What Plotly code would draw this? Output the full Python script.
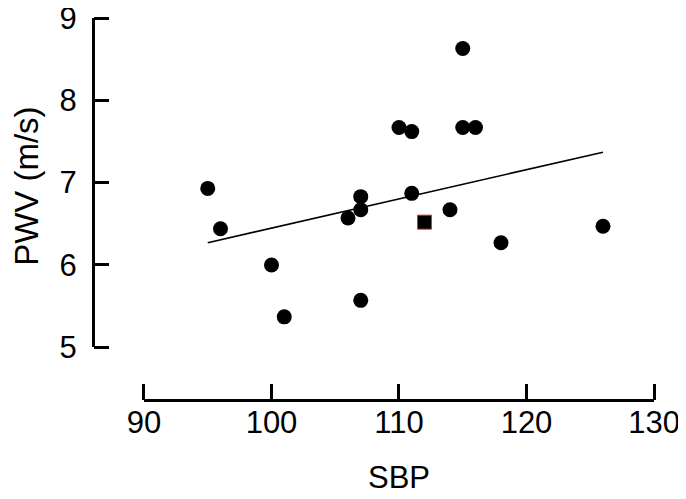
import plotly.graph_objects as go

# Data
sbp = [95, 96, 100, 101, 107, 106, 107, 107, 111, 110, 111, 115, 116, 114, 118, 126, 115]
pwv = [6.93, 6.44, 6.00, 5.37, 5.57, 6.57, 6.67, 6.83, 6.87, 7.67, 7.62, 7.67, 7.67, 6.67, 6.27, 6.47, 8.63]
highlight_sbp = [112]
highlight_pwv = [6.52]
fit_sbp = [95, 126]
fit_pwv = [6.27, 7.37]
x_ticks = [90, 100, 110, 120, 130]
y_ticks = [5, 6, 7, 8, 9]
x_range = [90, 130]
y_range = [5, 9]

FONT = "Liberation Sans, Arial, sans-serif"

fig = go.Figure()
fig.add_trace(go.Scatter(x=fit_sbp, y=fit_pwv, mode="lines",
                         line=dict(color="black", width=1.6), showlegend=False,
                         hoverinfo="skip", cliponaxis=False))
fig.add_trace(go.Scatter(x=sbp, y=pwv, mode="markers",
                         marker=dict(color="black", size=15, line=dict(width=0)),
                         showlegend=False, cliponaxis=False))
fig.add_trace(go.Scatter(x=highlight_sbp, y=highlight_pwv, mode="markers",
                         marker=dict(color="black", size=14, symbol="square",
                                     line=dict(color="#e03030", width=1)),
                         showlegend=False, cliponaxis=False))
# empty trace so the tick-only overlay axes are drawn
fig.add_trace(go.Scatter(x=[None], y=[None], xaxis="x2", yaxis="y2",
                         mode="markers", showlegend=False, hoverinfo="skip"))

tick_font = dict(size=31, family=FONT, color="black")

fig.update_layout(
    width=686, height=499,
    margin=dict(l=85, r=40, t=10, b=107, autoexpand=False),
    paper_bgcolor="white", plot_bgcolor="white",
    font=dict(family=FONT, color="black", size=30),
    # label + line axes
    xaxis=dict(
        domain=[0.0909, 1.0], range=x_range, anchor="free", position=0, side="bottom",
        automargin=False,
        tickmode="array", tickvals=x_ticks, ticktext=[str(v) for v in x_ticks],
        ticks="", showline=True, linewidth=3, linecolor="black",
        showgrid=False, zeroline=False, ticklabelstandoff=-6,
        ticklabeloverflow="allow", tickfont=tick_font,
    ),
    yaxis=dict(
        domain=[0.138, 1.0], range=y_range, anchor="free", position=0, side="left",
        automargin=False,
        tickmode="array", tickvals=y_ticks, ticktext=[str(v) for v in y_ticks],
        ticks="", showline=True, linewidth=3, linecolor="black",
        showgrid=False, zeroline=False, ticklabelstandoff=9,
        ticklabeloverflow="allow", tickfont=tick_font,
    ),
    # tick-mark axes (ticks pointing into the plot)
    xaxis2=dict(
        overlaying="x", range=x_range, anchor="free", position=0, side="top",
        automargin=False,
        tickmode="array", tickvals=x_ticks,
        ticks="outside", ticklen=16, tickwidth=3, tickcolor="black",
        showticklabels=False, showline=False, showgrid=False, zeroline=False,
    ),
    yaxis2=dict(
        overlaying="y", range=y_range, anchor="free", position=0, side="right",
        automargin=False,
        tickmode="array", tickvals=y_ticks,
        ticks="outside", ticklen=15, tickwidth=3, tickcolor="black",
        showticklabels=False, showline=False, showgrid=False, zeroline=False,
    ),
    annotations=[
        dict(text="SBP", xref="paper", yref="paper", x=0.5455, y=-0.204,
             xanchor="center", yanchor="middle", showarrow=False,
             font=dict(size=31, family=FONT, color="black")),
        dict(text="PWV (m/s)", xref="paper", yref="paper", x=-0.1176, y=0.558,
             xanchor="center", yanchor="middle", showarrow=False, textangle=-90,
             font=dict(size=33, family=FONT, color="black")),
    ],
)

fig.write_html("out.html")
